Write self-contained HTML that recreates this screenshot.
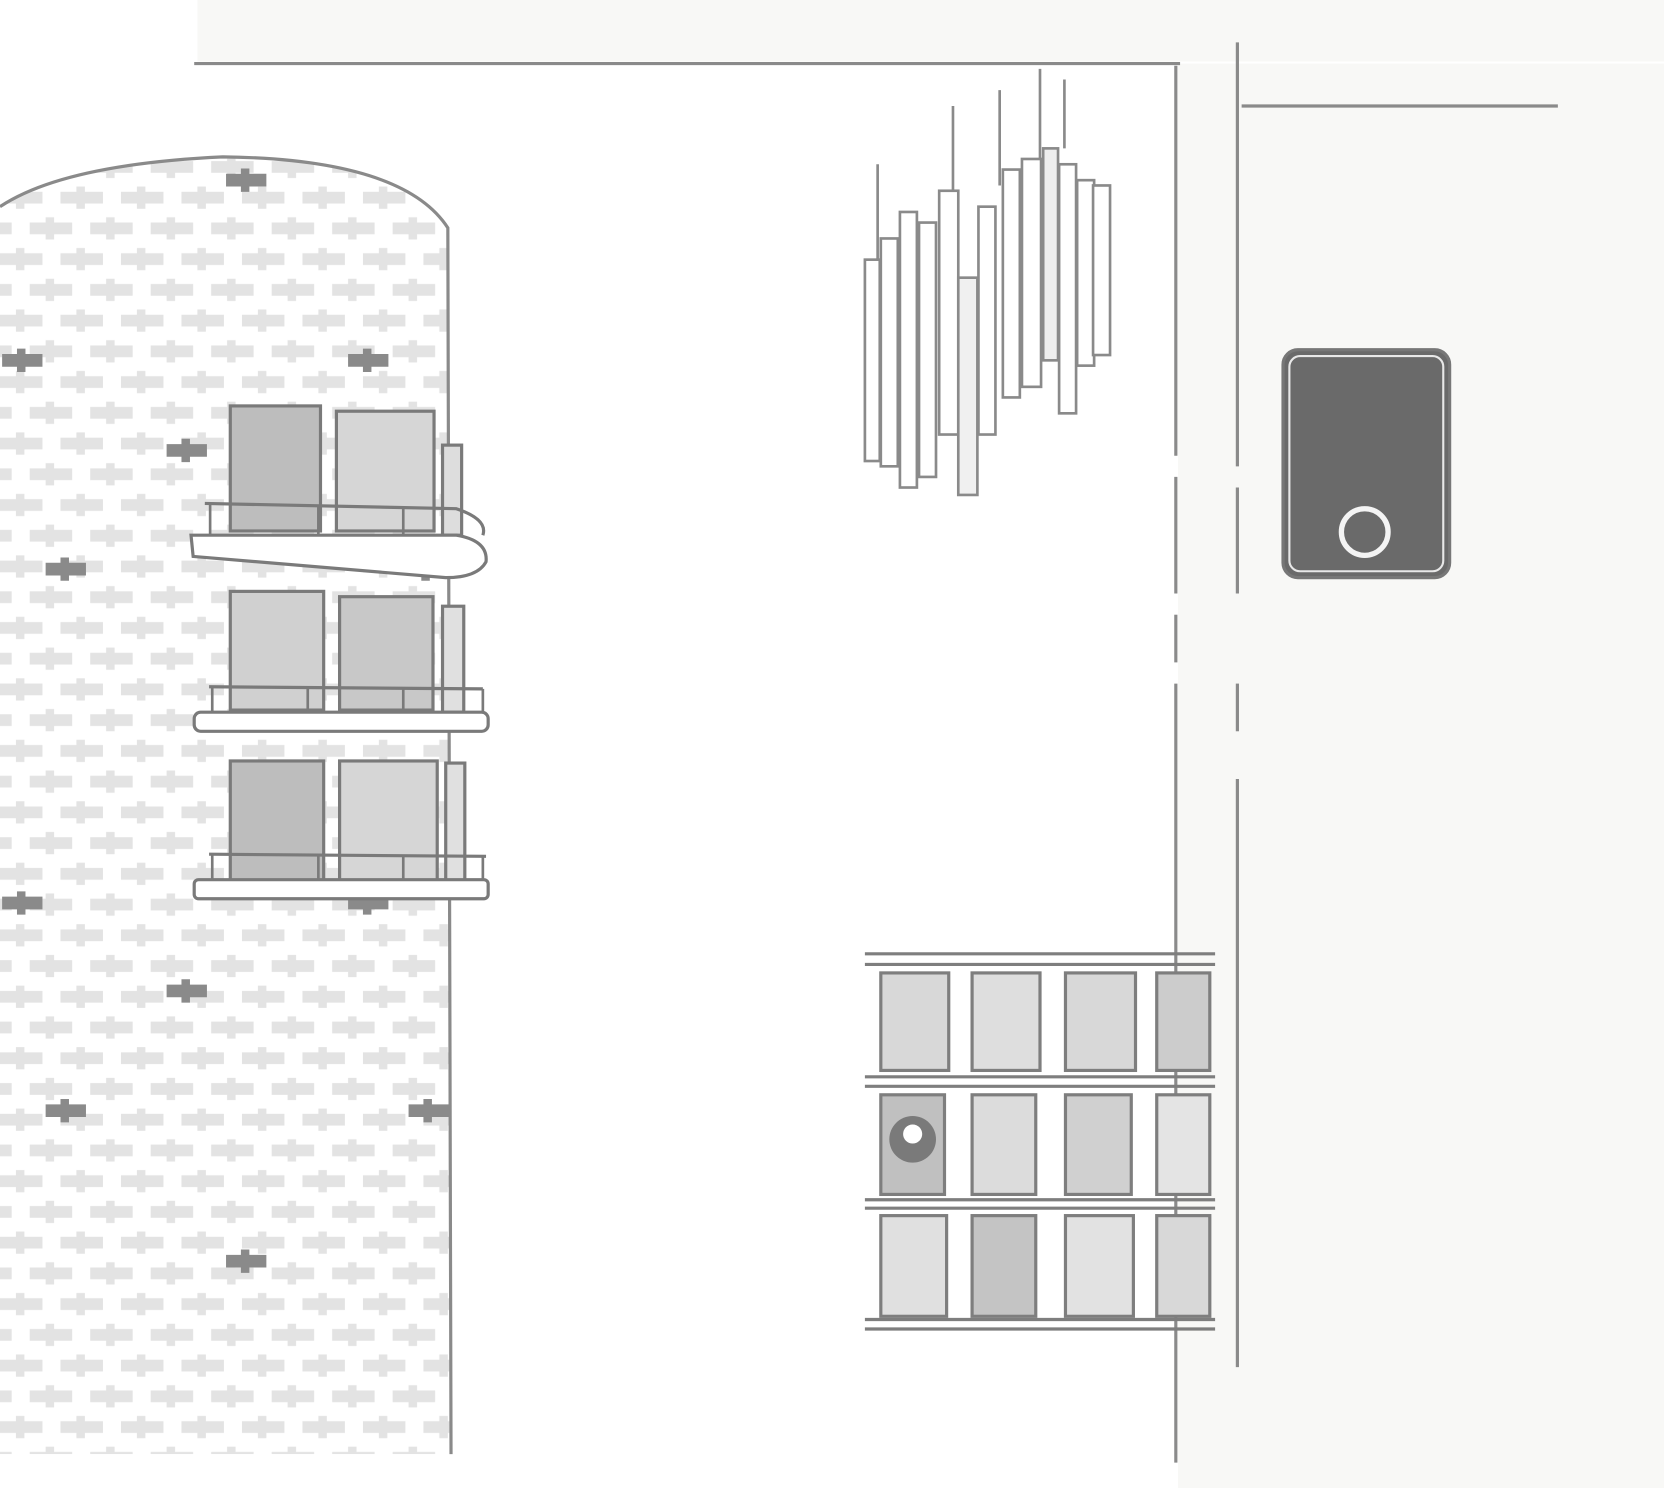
<!DOCTYPE html>
<html><head><meta charset="utf-8"><style>
html,body{margin:0;padding:0;background:#fff;}
svg{display:block;}
</style></head><body>
<svg width="1664" height="1488" viewBox="0 0 1568 1404" preserveAspectRatio="none" xmlns="http://www.w3.org/2000/svg">
<defs>
<pattern id="cr" x="0" y="0" width="57" height="58" patternUnits="userSpaceOnUse">
<g fill="#e3e3e3">
<path d="M0 7h15v-5h8v5h17v11h-17v5h-8v-5h-15z"/>
<path d="M28 36h15v-5h8v5h17v11h-17v5h-8v-5h-15z"/>
<path d="M-29 36h15v-5h8v5h17v11h-17v5h-8v-5h-15z"/>
</g>
</pattern>
<clipPath id="tw"><path d="M0 195 Q60 155 210 148 Q380 150 422 215 L425 1372 L0 1372 Z"/></clipPath>
<path id="dc" d="M0 -6h14v-5h8v5h16v12h-16v5h-8v-5h-14z"/>
</defs>
<rect width="1568" height="1404" fill="#fff"/>
<rect x="186" y="0" width="1382" height="58" fill="#f8f8f6"/>
<rect x="1110" y="60" width="458" height="1344" fill="#f8f8f6"/>
<g stroke="#8a8a8a" stroke-width="3" fill="none">
<line x1="183" y1="60" x2="1112" y2="60"/>
<line x1="1108" y1="62" x2="1108" y2="430"/>
<line x1="1108" y1="450" x2="1108" y2="560"/>
<line x1="1108" y1="580" x2="1108" y2="625"/>
<line x1="1108" y1="645" x2="1108" y2="1380"/>
<line x1="1166" y1="40" x2="1166" y2="440"/>
<line x1="1166" y1="460" x2="1166" y2="560"/>
<line x1="1166" y1="645" x2="1166" y2="690"/>
<line x1="1166" y1="735" x2="1166" y2="1290"/>
<line x1="1170" y1="100" x2="1468" y2="100"/>
</g>
<g clip-path="url(#tw)">
<rect x="0" y="140" width="430" height="1240" fill="#fff"/>
<rect x="0" y="140" width="430" height="1240" fill="url(#cr)"/>
</g>
<path d="M0 195 Q60 155 210 148 Q380 150 422 215 L425 1372" stroke="#8a8a8a" stroke-width="3" fill="none"/>
<g fill="#8a8a8a">
<use href="#dc" x="213" y="170"/><use href="#dc" x="2" y="340"/><use href="#dc" x="328" y="340"/>
<use href="#dc" x="157" y="425"/><use href="#dc" x="43" y="537"/><use href="#dc" x="383" y="537"/>
<use href="#dc" x="2" y="852"/><use href="#dc" x="328" y="852"/><use href="#dc" x="157" y="935"/>
<use href="#dc" x="43" y="1048"/><use href="#dc" x="385" y="1048"/><use href="#dc" x="213" y="1190"/>
</g>
<g stroke="#7a7a7a" stroke-width="3">
<rect x="217" y="383" width="85" height="118" fill="#bdbdbd"/>
<rect x="317" y="388" width="92" height="113" fill="#d6d6d6"/>
<rect x="417" y="420" width="18" height="85" fill="#ddd"/>
<path d="M180 505 L430 505 Q460 510 458 530 Q450 545 420 545 L182 525 Z" fill="#fff"/>
<path d="M193 475 L430 480 Q460 490 455 505" fill="none"/>
<rect x="217" y="558" width="88" height="112" fill="#d0d0d0"/>
<rect x="320" y="563" width="88" height="107" fill="#c8c8c8"/>
<rect x="417" y="572" width="20" height="100" fill="#e0e0e0"/>
<rect x="183" y="672" width="277" height="18" rx="6" fill="#fff"/>
<path d="M197 648 L455 650" fill="none"/>
<rect x="217" y="718" width="88" height="115" fill="#bdbdbd"/>
<rect x="320" y="718" width="92" height="115" fill="#d6d6d6"/>
<rect x="420" y="720" width="18" height="112" fill="#e0e0e0"/>
<rect x="183" y="830" width="277" height="18" rx="4" fill="#fff"/>
<path d="M197 806 L458 808" fill="none"/>
</g>
<g stroke="#7a7a7a" stroke-width="2.5">
<line x1="198" y1="475" x2="198" y2="505"/><line x1="300" y1="477" x2="300" y2="505"/><line x1="380" y1="480" x2="380" y2="505"/>
<line x1="200" y1="648" x2="200" y2="672"/><line x1="290" y1="648" x2="290" y2="672"/><line x1="380" y1="649" x2="380" y2="672"/><line x1="455" y1="650" x2="455" y2="672"/>
<line x1="200" y1="806" x2="200" y2="830"/><line x1="300" y1="806" x2="300" y2="830"/><line x1="380" y1="807" x2="380" y2="830"/><line x1="455" y1="808" x2="455" y2="830"/>
</g>
<g stroke="#8a8a8a" stroke-width="2.5" fill="#fff">
<line x1="827" y1="155" x2="827" y2="245"/><line x1="898" y1="100" x2="898" y2="180"/>
<line x1="942" y1="85" x2="942" y2="175"/><line x1="980" y1="65" x2="980" y2="150"/><line x1="1003" y1="75" x2="1003" y2="140"/>
<rect x="815" y="245" width="14" height="190"/>
<rect x="830" y="225" width="16" height="215"/>
<rect x="848" y="200" width="16" height="260"/>
<rect x="866" y="210" width="16" height="240"/>
<rect x="885" y="180" width="18" height="230"/>
<rect x="903" y="262" width="18" height="205" fill="#f0f0f0"/>
<rect x="922" y="195" width="16" height="215"/>
<rect x="945" y="160" width="16" height="215"/>
<rect x="963" y="150" width="18" height="215"/>
<rect x="983" y="140" width="14" height="200" fill="#eee"/>
<rect x="998" y="155" width="16" height="235"/>
<rect x="1015" y="170" width="16" height="175"/>
<rect x="1030" y="175" width="16" height="160"/>
</g>
<rect x="1209" y="330" width="157" height="215" rx="14" fill="#6a6a6a" stroke="#777" stroke-width="3"/>
<rect x="1215" y="336" width="145" height="203" rx="10" fill="none" stroke="#e8e8e8" stroke-width="2"/>
<circle cx="1286" cy="502" r="22" fill="none" stroke="#f4f4f4" stroke-width="5"/>
<g>
<g fill="#d8d8d8" stroke="#7e7e7e" stroke-width="3">
<rect x="830" y="918" width="64" height="92"/><rect x="916" y="918" width="64" height="92" fill="#dedede"/>
<rect x="1004" y="918" width="66" height="92"/><rect x="1090" y="918" width="50" height="92" fill="#ccc"/>
<rect x="830" y="1033" width="60" height="94" fill="#c0c0c0"/><rect x="916" y="1033" width="60" height="94" fill="#dcdcdc"/>
<rect x="1004" y="1033" width="62" height="94" fill="#d0d0d0"/><rect x="1090" y="1033" width="50" height="94" fill="#e4e4e4"/>
<rect x="830" y="1147" width="62" height="95" fill="#e0e0e0"/><rect x="916" y="1147" width="60" height="95" fill="#c4c4c4"/>
<rect x="1004" y="1147" width="64" height="95" fill="#e2e2e2"/><rect x="1090" y="1147" width="50" height="95" fill="#d8d8d8"/>
</g>
<g stroke="#7e7e7e" stroke-width="3">
<line x1="815" y1="900" x2="1145" y2="900"/><line x1="815" y1="910" x2="1145" y2="910"/>
<line x1="815" y1="1016" x2="1145" y2="1016"/><line x1="815" y1="1025" x2="1145" y2="1025"/>
<line x1="815" y1="1132" x2="1145" y2="1132"/><line x1="815" y1="1140" x2="1145" y2="1140"/>
<line x1="815" y1="1245" x2="1145" y2="1245"/><line x1="815" y1="1254" x2="1145" y2="1254"/>
</g>
<circle cx="860" cy="1075" r="22" fill="#7a7a7a"/><circle cx="860" cy="1070" r="9" fill="#fff"/>
</g>
</svg>
</body></html>
